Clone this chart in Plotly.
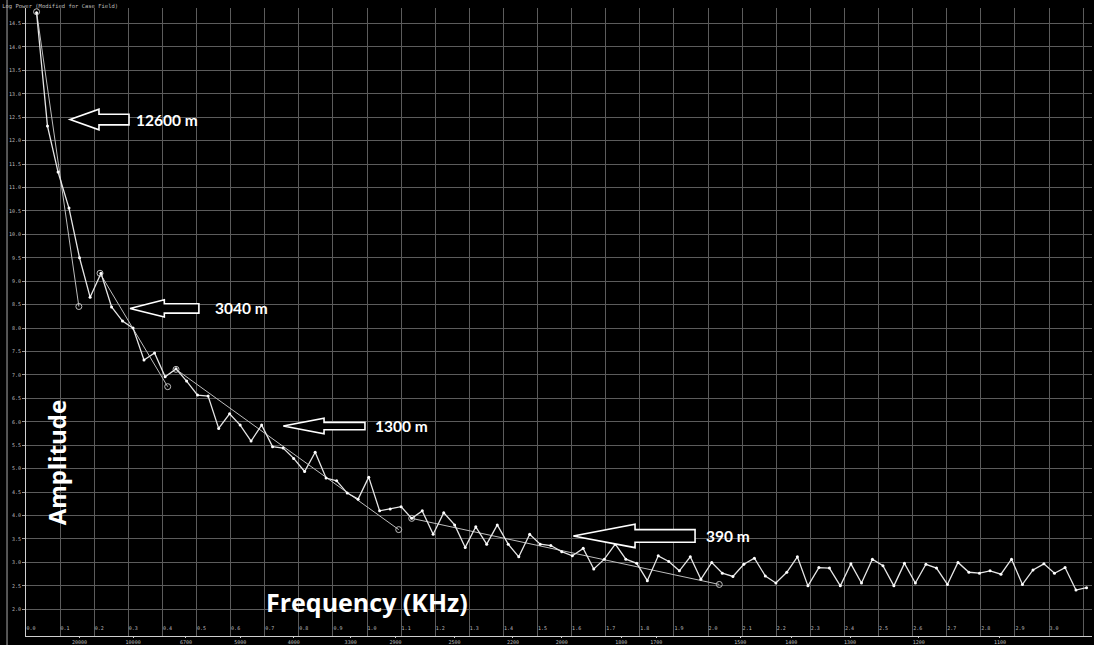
import math
import plotly.graph_objects as go

# ---------------- data ----------------
freq = [0.031, 0.063, 0.094, 0.126, 0.157, 0.188, 0.220, 0.251, 0.283, 0.314,
        0.346, 0.377, 0.408, 0.440, 0.471, 0.503, 0.534, 0.565, 0.597, 0.628,
        0.660, 0.691, 0.723, 0.754, 0.785, 0.817, 0.848, 0.880, 0.911, 0.942,
        0.974, 1.005, 1.037, 1.068, 1.100, 1.131, 1.162, 1.194, 1.225, 1.257,
        1.288, 1.319, 1.351, 1.382, 1.414, 1.445, 1.477, 1.508, 1.539, 1.571,
        1.602, 1.634, 1.665, 1.696, 1.728, 1.759, 1.791, 1.822, 1.854, 1.885,
        1.916, 1.948, 1.979, 2.011, 2.042, 2.073, 2.105, 2.136, 2.168, 2.199,
        2.231, 2.262, 2.293, 2.325, 2.356, 2.388, 2.419, 2.450, 2.482, 2.513,
        2.545, 2.576, 2.608, 2.639, 2.670, 2.702, 2.733, 2.765, 2.796, 2.827,
        2.859, 2.890, 2.922, 2.953, 2.985, 3.016, 3.047, 3.079, 3.110]

amplitude = [14.73, 12.31, 11.33, 10.56, 9.50, 8.66, 9.17, 8.45, 8.15, 8.00,
             7.32, 7.47, 6.96, 7.13, 6.87, 6.57, 6.55, 5.86, 6.17, 5.93,
             5.59, 5.93, 5.47, 5.44, 5.22, 4.94, 5.35, 4.80, 4.74, 4.48,
             4.35, 4.82, 4.10, 4.14, 4.19, 3.94, 4.10, 3.60, 4.06, 3.80,
             3.32, 3.76, 3.39, 3.80, 3.39, 3.12, 3.60, 3.39, 3.36, 3.23,
             3.14, 3.30, 2.86, 3.07, 3.39, 3.07, 2.98, 2.61, 3.14, 3.02,
             2.82, 3.12, 2.64, 3.00, 2.77, 2.70, 2.96, 3.09, 2.71, 2.56,
             2.79, 3.12, 2.50, 2.89, 2.88, 2.50, 2.97, 2.56, 3.07, 2.93,
             2.50, 2.98, 2.56, 2.96, 2.88, 2.53, 3.00, 2.79, 2.77, 2.82,
             2.75, 3.07, 2.53, 2.84, 2.97, 2.77, 2.89, 2.41, 2.46]

# straight-line depth fits (start / end)
fit_12600_x = [0.031, 0.155]
fit_12600_y = [14.75, 8.46]
fit_3040_x = [0.217, 0.4155]
fit_3040_y = [9.17, 6.75]
fit_1300_x = [0.440, 1.093]
fit_1300_y = [7.12, 3.70]
fit_390_x = [1.131, 2.033]
fit_390_y = [3.94, 2.53]

# wavelength labels on the lower axis
wavelengths = [20000, 10000, 6700, 5000, 4000, 3300, 2900, 2500, 2200, 2000,
               1800, 1700, 1500, 1400, 1300, 1200, 1100, 1000]
wavelength_labels = [str(w) for w in wavelengths]

# arrow annotations: label, tip x, tip y
arrow_labels = ["12600 m", "3040 m", "1300 m", "390 m"]
arrow_tip_x = [0.129, 0.305, 0.7545, 1.605]
arrow_tip_y = [12.45, 8.42, 5.91, 3.565]
arrow_head_x = [0.214, 0.4056, 0.874, 1.786]
arrow_end_x = [0.302, 0.507, 0.994, 1.962]
arrow_head_half = [0.22, 0.185, 0.166, 0.25]
arrow_shaft_half = [0.113, 0.10, 0.079, 0.134]
label_x = [0.318, 0.548, 1.017, 1.987]

# ---------------- figure ----------------
X_RANGE = [0, 3.126]
Y_RANGE = [1.43, 14.83]
GRID = "#5c5c5c"
MONO = "DejaVu Sans Mono"

fig = go.Figure()

for fx, fy in [(fit_12600_x, fit_12600_y), (fit_3040_x, fit_3040_y),
               (fit_1300_x, fit_1300_y), (fit_390_x, fit_390_y)]:
    fig.add_trace(go.Scatter(
        x=fx, y=fy, mode="lines+markers",
        line=dict(color="#bdbdbd", width=1),
        marker=dict(symbol="circle-open", size=6, color="#bdbdbd",
                    line=dict(width=1)),
        showlegend=False, hoverinfo="skip"))

fig.add_trace(go.Scatter(
    x=freq, y=amplitude, mode="lines+markers",
    line=dict(color="#e6e6e6", width=1.3),
    marker=dict(size=3, color="#ffffff"),
    showlegend=False))

# invisible trace for second x axis (wavelength labels)
fig.add_trace(go.Scatter(x=[X_RANGE[0]], y=[Y_RANGE[0]], xaxis="x2",
                         mode="markers", marker=dict(opacity=0),
                         showlegend=False, hoverinfo="skip"))

shapes = []
for tx, ty, hx, ex, hh, sh in zip(arrow_tip_x, arrow_tip_y, arrow_head_x,
                                   arrow_end_x, arrow_head_half, arrow_shaft_half):
    path = (f"M {tx},{ty} L {hx},{ty + hh} L {hx},{ty + sh} L {ex},{ty + sh} "
            f"L {ex},{ty - sh} L {hx},{ty - sh} L {hx},{ty - hh} Z")
    shapes.append(dict(type="path", path=path, xref="x", yref="y",
                       line=dict(color="#ffffff", width=1.6),
                       fillcolor="#000000", layer="above"))

# thin light frame line at the far left of the panel
shapes.append(dict(type="line", xref="paper", yref="paper",
                   x0=-0.0178, x1=-0.0178, y0=-0.02, y1=1.02,
                   line=dict(color="#a8a8a8", width=1)))

annotations = []
for lab, lx, ty in zip(arrow_labels, label_x, arrow_tip_y):
    annotations.append(dict(
        text=lab, x=lx, y=ty, xref="x", yref="y", xanchor="left",
        yanchor="middle", showarrow=False,
        font=dict(family="Lato", size=15.5, color="#ffffff", weight="bold")))

annotations.append(dict(
    text="Amplitude", x=0.09, y=5.13, xref="x", yref="y", textangle=-90,
    showarrow=False, xanchor="center", yanchor="middle",
    font=dict(family="Open Sans", size=24, color="#ffffff", weight="bold")))
annotations.append(dict(
    text="Frequency (KHz)", x=0.999, y=2.16, xref="x", yref="y",
    showarrow=False, xanchor="center", yanchor="middle",
    font=dict(family="Open Sans", size=25, color="#ffffff", weight="bold")))

fig.update_layout(
    width=1094, height=645,
    margin=dict(l=26, r=2, t=8, b=9),
    paper_bgcolor="#000000", plot_bgcolor="#000000",
    title=dict(text="Log Power (Modified for Case Field)", x=0.002, xanchor="left",
               y=0.991, yanchor="middle", yref="container",
               font=dict(family=MONO, size=5.5, color="#bdbdbd")),
    shapes=shapes, annotations=annotations,
    xaxis=dict(range=X_RANGE, tick0=0, dtick=0.1, tickformat=".1f",
               automargin=False,
               showgrid=True, gridcolor=GRID, gridwidth=1, zeroline=False,
               showline=True, linecolor="#cfcfcf", linewidth=1,
               ticks="", ticklabelposition="inside right",
               tickfont=dict(family=MONO, size=5, color="#bdbdbd")),
    xaxis2=dict(range=X_RANGE, overlaying="x", anchor="y", side="bottom",
                automargin=False,
                tickmode="array",
                tickvals=[1000 * math.pi / w for w in wavelengths],
                ticktext=wavelength_labels, showgrid=False, zeroline=False,
                ticks="outside", ticklen=1, tickcolor="#cfcfcf",
                tickfont=dict(family=MONO, size=5, color="#bdbdbd")),
    yaxis=dict(range=Y_RANGE, tick0=0, dtick=0.5, tickformat=".1f",
               automargin=False,
               showgrid=True, gridcolor=GRID, gridwidth=1, zeroline=False,
               showline=True, linecolor="#cfcfcf", linewidth=1,
               ticks="outside", ticklen=3, tickcolor="#9a9a9a",
               tickfont=dict(family=MONO, size=5, color="#bdbdbd")),
)

fig.write_html(
    "out.html",
    config={"displayModeBar": False},
    post_script="document.body.style.margin='0';document.body.style.background='#000';",
)
